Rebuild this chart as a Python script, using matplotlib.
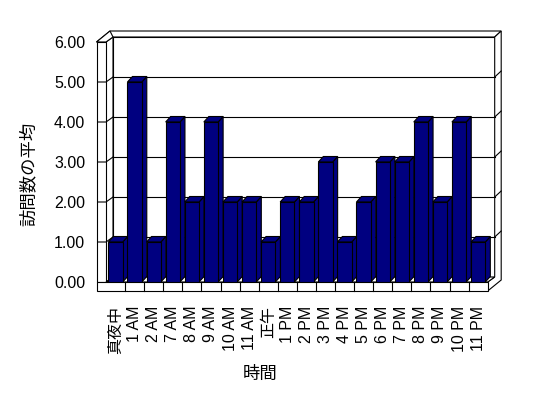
import matplotlib
matplotlib.use('Agg')
import matplotlib.pyplot as plt
from matplotlib.patches import Polygon

plt.rcParams['font.family'] = ['Liberation Sans', 'Noto Sans CJK JP', 'DejaVu Sans']

# data
hours = ['真夜中', '1 AM', '2 AM', '7 AM', '8 AM', '9 AM', '10 AM', '11 AM', '正午',
         '1 PM', '2 PM', '3 PM', '4 PM', '5 PM', '6 PM', '7 PM', '8 PM', '9 PM',
         '10 PM', '11 PM']
avg_visits = [1, 5, 1, 4, 2, 4, 2, 2, 1, 2, 2, 3, 1, 2, 3, 3, 4, 2, 4, 1]
y_ticks = [0, 1, 2, 3, 4, 5, 6]

W, H = 548, 398
fig = plt.figure(figsize=(W / 100, H / 100), dpi=100)

# front plane of the 3d box, in pixels
left_px, right_px, bottom_px, top_px = 106, 487.7, 282, 42
ax = fig.add_axes([left_px / W, 1 - bottom_px / H,
                   (right_px - left_px) / W, (bottom_px - top_px) / H])
n = len(hours)
ymax = y_ticks[-1]
ax.set_xlim(-0.5, n - 0.5)
ax.set_ylim(0, ymax)

# data units per pixel
kx = n / (right_px - left_px)
ky = ymax / (bottom_px - top_px)

x0, x1 = -0.5, n - 0.5
# depth of the box, wall thickness etc. (pixels)
dx, dy = 7, 5
bx, by = 6.5, 6
wall = 9.5
floor = 9
bdx, bdy = 5, 5.5
lw = 0.8


def pt(x, y, ox=0, oy=0):
    return (x + ox * kx, y + oy * ky)


def poly(points, fc='white', z=1):
    ax.add_patch(Polygon(points, closed=True, facecolor=fc, edgecolor='black',
                         linewidth=lw, zorder=z, clip_on=False))


def line(points, z=2):
    xs = [p[0] for p in points]
    ys = [p[1] for p in points]
    ax.plot(xs, ys, color='black', linewidth=lw, zorder=z, clip_on=False)


# back wall
poly([pt(x0, 0, dx, dy), pt(x1, 0, dx, dy), pt(x1, ymax, dx, dy), pt(x0, ymax, dx, dy)])
# back wall top
poly([pt(x0, ymax, dx, dy), pt(x1, ymax, dx, dy), pt(x1, ymax, dx + bx, dy + by),
      pt(x0, ymax, -wall + dx + bx, dy + by), pt(x0, ymax, -wall, 0)])
# right side
poly([pt(x1, 0, 0, -floor), pt(x1, 0, dx + bx, -floor + dy + by),
      pt(x1, ymax, dx + bx, dy + by), pt(x1, ymax, dx, dy), pt(x1, 0, dx, dy), pt(x1, 0)])
# left wall inner face
poly([pt(x0, 0), pt(x0, 0, dx, dy), pt(x0, ymax, dx, dy), pt(x0, ymax)])
# left wall top
poly([pt(x0, ymax, -wall, 0), pt(x0, ymax), pt(x0, ymax, dx, dy),
      pt(x0, ymax, -wall + dx + bx, dy + by)])
# left wall front
poly([pt(x0, 0, -wall, 0), pt(x0, 0), pt(x0, ymax), pt(x0, ymax, -wall, 0)])
# floor top and front
poly([pt(x0, 0), pt(x1, 0), pt(x1, 0, dx, dy), pt(x0, 0, dx, dy)])
poly([pt(x0, 0, -wall, -floor), pt(x1, 0, 0, -floor), pt(x1, 0), pt(x0, 0, -wall, 0)])

# gridlines
for v in y_ticks[1:-1]:
    line([pt(x0, v, dx, dy), pt(x1, v, dx, dy)])
    line([pt(x1, v, dx, dy), pt(x1, v, dx + bx, dy + by)])
for v in y_ticks[1:-1]:
    line([pt(x0, v, -wall + 2, 0), pt(x0, v), pt(x0, v, dx, dy)])

# category dividers on floor front
for i in range(n - 1):
    line([pt(i + 0.5, 0, 0, -floor), pt(i + 0.5, 0)])

# bars
navy = '#000080'
bw = 0.75
for i, h in enumerate(avg_visits):
    z = 5 + i * 0.01
    l, r = i - bw / 2, i + bw / 2
    poly([pt(r, 0), pt(r, 0, bdx, bdy), pt(r, h, bdx, bdy), pt(r, h)], fc=navy, z=z)
    poly([pt(l, h), pt(r, h), pt(r, h, bdx, bdy), pt(l, h, bdx, bdy)], fc=navy, z=z)
    ax.bar(i, h, width=bw, color=navy, edgecolor='black', linewidth=lw, zorder=z + 0.001)

# axes text
for s in ax.spines.values():
    s.set_visible(False)
ax.set_yticks(y_ticks, ['%.2f' % v for v in y_ticks])
ax.set_xticks(range(n), hours, rotation=90)
ax.tick_params(axis='y', length=0, pad=15, labelsize=11.5)
ax.tick_params(axis='x', length=0, pad=17, labelsize=11.5)

fig.text(28.5 / W, 1 - 174 / H, '訪問数の平均', rotation=90, ha='center', va='center', fontsize=12.5)
fig.text(260 / W, 1 - 374 / H, '時間', ha='center', va='center', fontsize=12.5)

fig.savefig('out.png', dpi=100, facecolor='white')
